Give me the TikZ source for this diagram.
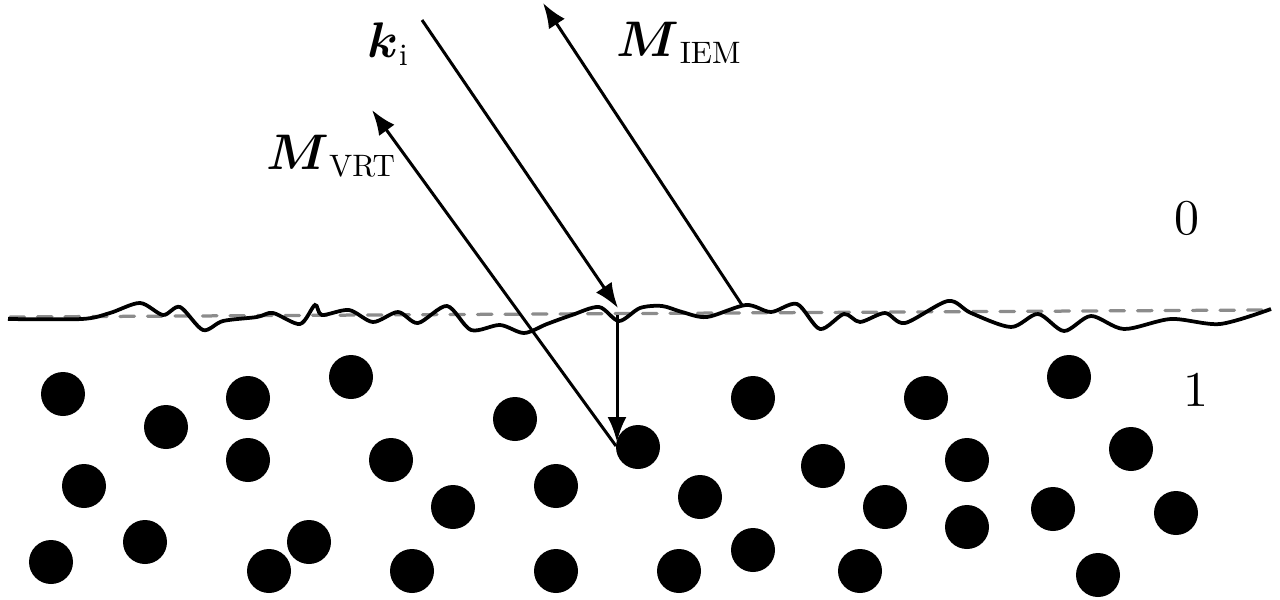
\documentclass[tikz,border=0pt]{standalone}
\usepackage{amssymb}
\usepackage{amsmath}
\usepackage{graphicx}
\usetikzlibrary{arrows.meta}

\newcommand{\subtext}[1]{\scalebox{0.62}{\rmfamily #1}}

\begin{document}
\begin{tikzpicture}[x=0.2pt, y=-0.2pt]
    \useasboundingbox (0, 0) rectangle (1280, 600);
    % mean plane and rough interface
    \draw[line width=0.65pt, black!45, dash pattern=on 2.9pt off 2.6pt, line cap=round] (10, 317) -- (1262, 310);
    \draw[line width=0.75pt] plot[smooth] coordinates {(8,319) (82,319) (110,313) (140,303) (163,315) (180,307) (203,330) (223,321) (257,317) (273,313) (300,324) (315,305) (322,315) (349,310) (373,322) (398,312) (418,323) (447,306) (471,330) (500,325) (524,333) (547,324) (572,315) (599,307) (619,321) (640,308) (662,306) (682,312) (707,317) (746,305) (771,312) (797,304) (820,329) (844,314) (860,322) (885,313) (905,323) (948,301) (971,313) (1011,327) (1038,314) (1064,331) (1091,316) (1124,329) (1171,319) (1220,324) (1271,309)};
    % scatterers in layer 1
    \foreach \x/\y in {63/394, 166/427, 248/398, 351/377, 515/419, 84/486, 248/460, 391/460, 453/507, 556/486, 51/562, 145/542, 269/571, 309/542, 412/571, 556/571, 638/447, 753/398, 926/398, 1069/377, 1131/449, 823/466, 967/460, 700/497, 885/507, 967/527, 1053/509, 1176/513, 679/571, 753/550, 860/571, 1098/575}
        \fill (\x, \y) circle(4.4pt);
    % rays
    \coordinate (kiA) at (422, 20);
    \coordinate (kiB) at (618, 308);
    \coordinate (iemA) at (742, 305);
    \coordinate (iemB) at (543, 3);
    \coordinate (trA) at (617, 315);
    \coordinate (trB) at (617, 442);
    \coordinate (vrtA) at (616, 446);
    \coordinate (vrtB) at (372, 110);
    \draw[semithick, -{Latex[length=5pt, width=3.8pt]}] (kiA) -- (kiB);
    \draw[semithick, -{Latex[length=5pt, width=3.8pt]}] (iemA) -- (iemB);
    \draw[semithick, -{Latex[length=5pt, width=3.8pt]}] (trA) -- (trB);
    \draw[semithick, -{Latex[length=5pt, width=3.8pt]}] (vrtA) -- (vrtB);
    % labels
    \node (ki) at (389, 44) {$\boldsymbol{k}_{\subtext{i}}$};
    \node (iem) at (680, 43) {$\boldsymbol{M}_{\subtext{IEM}}$};
    \node (vrt) at (332, 156) {$\boldsymbol{M}_{\subtext{VRT}}$};
    \node (air) at (1187, 218) {$0$};
    \node (layer) at (1196, 390) {$1$};
\end{tikzpicture}
\end{document}
